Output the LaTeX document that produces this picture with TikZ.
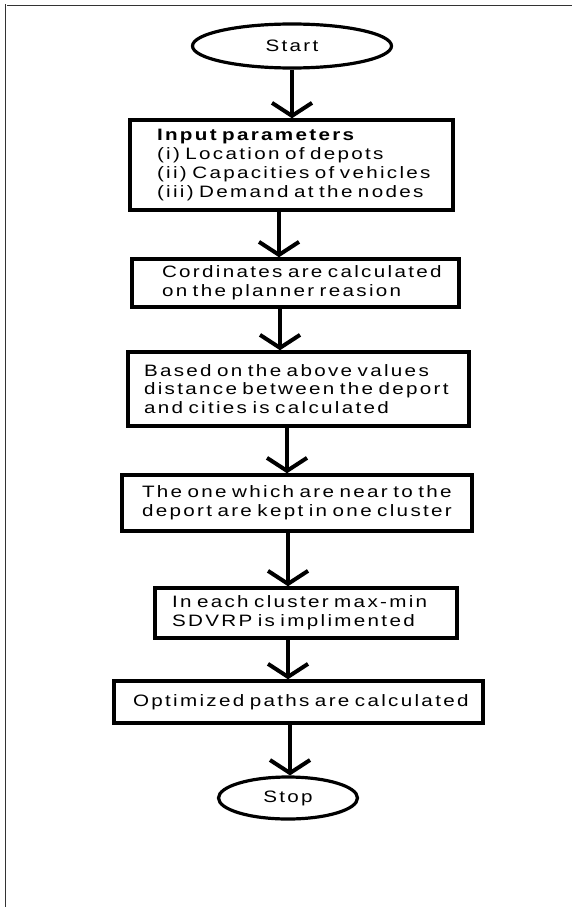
\documentclass[tikz,border=0pt]{standalone}
\usepackage{fontspec}
\usetikzlibrary{arrows.meta,shapes.geometric}
\newfontfamily\flowfont[FakeStretch=1.25,LetterSpace=14]{Liberation Sans}
\newcommand{\flowsize}{\fontsize{16.5}{18.8}\selectfont\spaceskip=9pt plus 1pt\relax}
\begin{document}
\begin{tikzpicture}[x=1pt,y=-1pt,
  frameline/.style={draw=black!80, double=white, double distance=1pt, line width=0.7pt},
  term/.style={ellipse, draw, line width=3.2pt, inner sep=0pt, font=\flowfont\flowsize},
  stepbox/.style={rectangle, draw, line width=3.5pt, align=left, inner ysep=0pt,
    font=\flowfont\flowsize},
  arr/.style={line width=4pt, -{Straight Barb[length=13pt,width=40pt,line width=4pt]}}
]
\useasboundingbox (0,0) rectangle (572,907);
\draw[frameline] (6,907) -- (6,5) -- (572,5);

\node[term, minimum width=199pt, minimum height=44pt] (start) at (292,46) {Start};

\node[stepbox, text width=269pt, inner xsep=27pt, minimum height=90pt] (inp) at (291.5,165)
  {\mbox{\textbf{Input parameters}}\\\mbox{(i) Location of depots}\\\mbox{(ii) Capacities of vehicles}\\\mbox{(iii) Demand at the nodes}};

\node[stepbox, text width=267pt, inner xsep=30pt, minimum height=48pt] (coord) at (295.5,283)
  {\mbox{Cordinates are calculated}\\\mbox{on the planner reasion}};

\node[stepbox, text width=309pt, inner xsep=16pt, minimum height=74pt] (dist) at (298.5,389)
  {\mbox{Based on the above values}\\\mbox{distance between the deport}\\\mbox{and cities is calculated}};

\node[stepbox, text width=310pt, inner xsep=20pt, minimum height=56pt] (clus) at (297,503)
  {\mbox{The one which are near to the}\\\mbox{deport are kept in one cluster}};

\node[stepbox, text width=268pt, inner xsep=17pt, minimum height=50pt] (sdvrp) at (306,613)
  {\mbox{In each cluster max-min}\\\mbox{SDVRP is implimented}};

\node[stepbox, text width=331pt, inner xsep=19pt, minimum height=42pt] (opt) at (298.5,702)
  {\mbox{Optimized paths are calculated}};

\node[term, minimum width=139pt, minimum height=42pt] (stop) at (288,798) {Stop};

\coordinate (x1) at (292,0);
\coordinate (x2) at (279,0);
\coordinate (x3) at (280,0);
\coordinate (x4) at (287,0);
\coordinate (x5) at (288,0);
\coordinate (x6) at (288,0);
\coordinate (x7) at (290,0);

\draw[arr] (start.south -| x1) -- (inp.north -| x1);
\draw[arr] (inp.south -| x2) -- (coord.north -| x2);
\draw[arr] (coord.south -| x3) -- (dist.north -| x3);
\draw[arr] (dist.south -| x4) -- (clus.north -| x4);
\draw[arr] (clus.south -| x5) -- (sdvrp.north -| x5);
\draw[arr] (sdvrp.south -| x6) -- (opt.north -| x6);
\draw[arr] (opt.south -| x7) -- (stop.north -| x7);
\end{tikzpicture}
\end{document}
